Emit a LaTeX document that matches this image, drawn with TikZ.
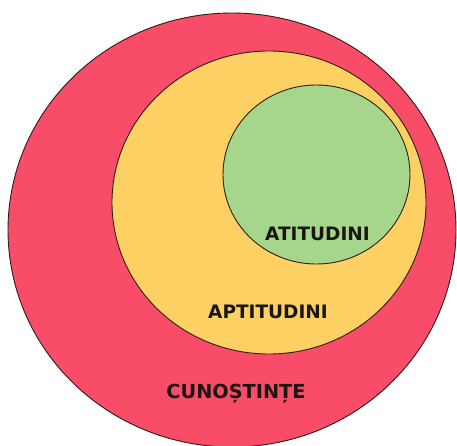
\documentclass[tikz,border=0pt]{standalone}
\usepackage{fontspec}
\setmainfont{DejaVu Sans}
\definecolor{redC}{RGB}{248,76,104}
\definecolor{yelC}{RGB}{253,208,100}
\definecolor{grnC}{RGB}{166,213,140}
\definecolor{edgeC}{RGB}{45,30,25}
\definecolor{txtC}{RGB}{25,22,20}
\begin{document}
\begin{tikzpicture}[x=1pt,y=-1pt,
  ring/.style={draw=edgeC,line width=0.9pt},
  lbl/.style={anchor=base,inner sep=0pt,text=txtC,font=\bfseries\fontsize{18.5}{20}\selectfont}]
\useasboundingbox (0,0) rectangle (457,446);
\fill[white] (0,0) rectangle (457,446);
\begin{scope}
\clip (0,0) rectangle (457,446);
\draw[ring,fill=redC] (232,230) ellipse [x radius=224,y radius=217];
\draw[ring,fill=yelC] (269,202.5) ellipse [x radius=157,y radius=151.5];
\draw[ring,fill=grnC] (316.5,174.5) ellipse [x radius=93.5,y radius=89.5];
\end{scope}
\node[lbl] (att) at (317.5,240) {ATITUDINI};
\node[lbl] (apt) at (268,318) {APTITUDINI};
\node[lbl,font=\bfseries\fontsize{19.3}{21}\selectfont] (cun) at (236,398.5) {CUNOȘTINȚE};
\end{tikzpicture}
\end{document}
